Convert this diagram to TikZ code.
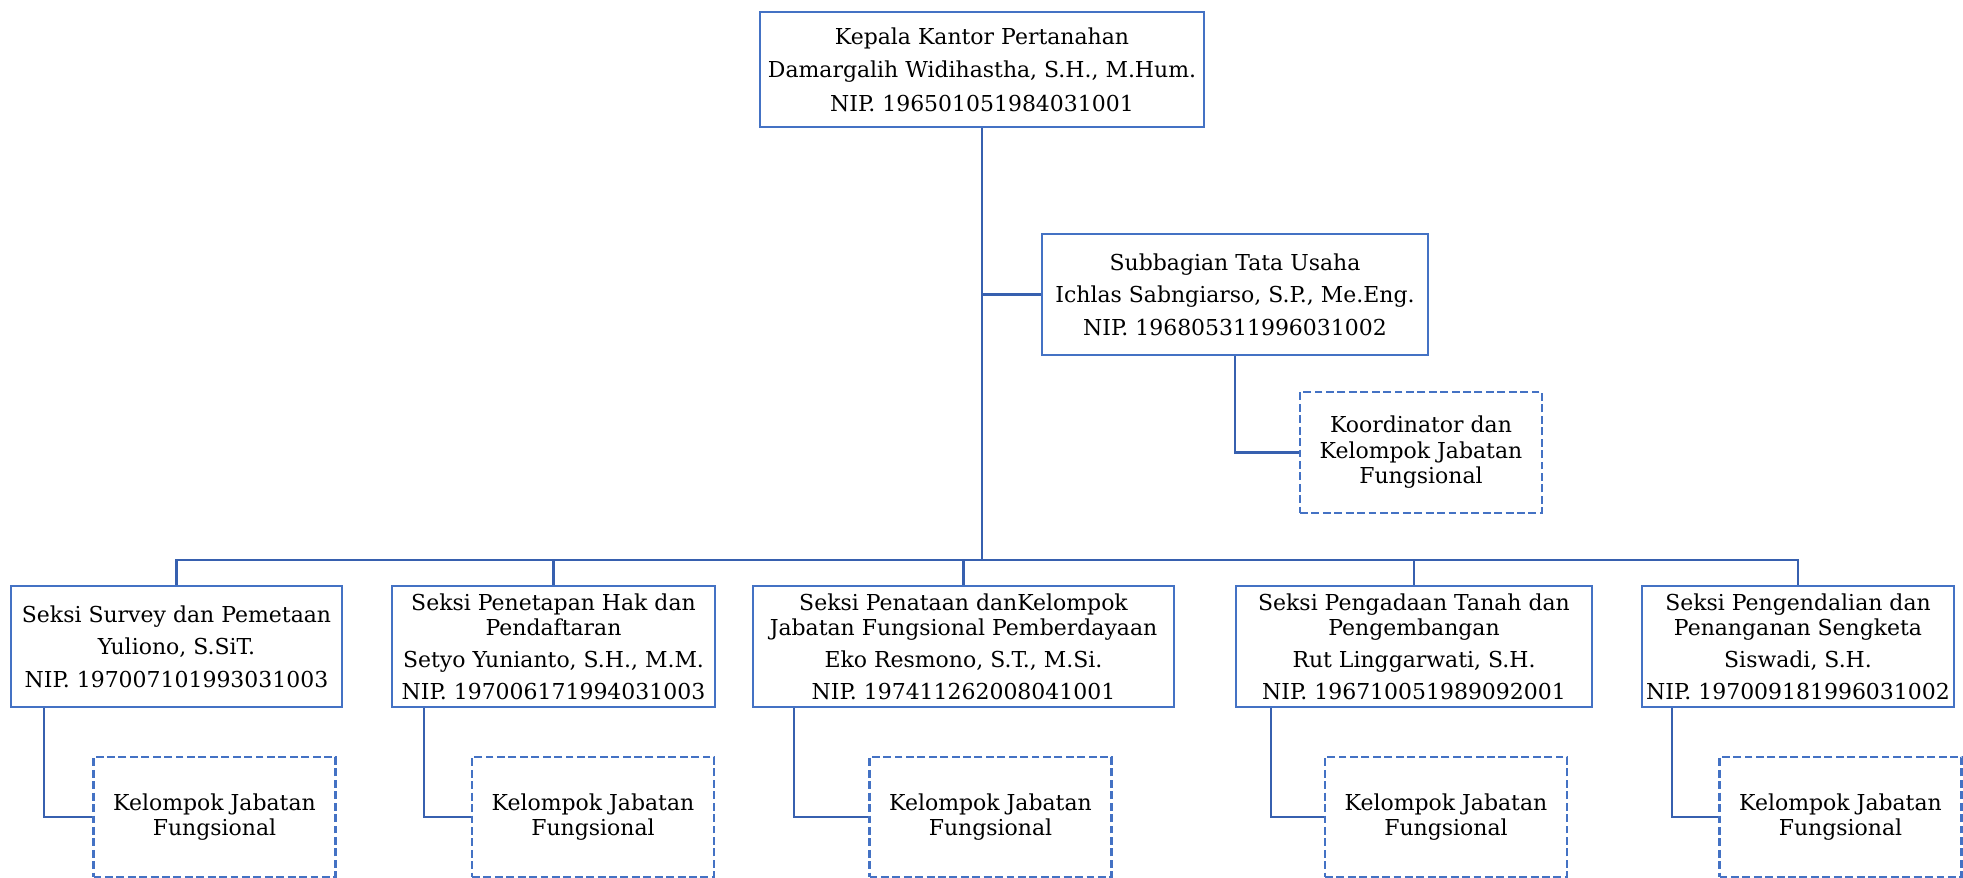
\documentclass[tikz,border=0pt]{standalone}
\usepackage{fontspec}
\setmainfont{DejaVu Serif}
\definecolor{orgblue}{RGB}{68,114,196}
\definecolor{lineblue}{RGB}{55,96,175}

\begin{document}
\begin{tikzpicture}[x=0.02cm,y=-0.02cm,
    unit/.style={draw=orgblue,line width=1.3pt,align=center,inner sep=1pt,
                 minimum height=2.42cm,font=\fontsize{12.5}{14.5}\selectfont},
    group/.style={unit,dash pattern=on 4.5pt off 2pt,minimum width=4.84cm,minimum height=2.4cm},
    link/.style={draw=lineblue,line width=1.5pt}]
    \useasboundingbox (0,0) rectangle (1963,878);

    \node[unit,minimum width=8.88cm,minimum height=2.3cm] (kepala) at (982,69.5)
        {Kepala Kantor Pertanahan\\[4.5pt]Damargalih Widihastha, S.H., M.Hum.\\[4.5pt]NIP. 196501051984031001};
    \node[unit,minimum width=7.72cm] (tu) at (1235,294.5)
        {Subbagian Tata Usaha\\[4pt]Ichlas Sabngiarso, S.P., Me.Eng.\\[4pt]NIP. 196805311996031002};
    \node[group,minimum height=2.42cm] (koord) at (1421,452.5)
        {Koordinator dan\\Kelompok Jabatan\\Fungsional};

    % seksi
    \node[unit,minimum width=6.62cm] (s1) at (176.5,646.5)
        {Seksi Survey dan Pemetaan\\[4pt]Yuliono, S.SiT.\\[4pt]NIP. 197007101993031003};
    \node[unit,minimum width=6.46cm] (s2) at (553.5,646.5)
        {Seksi Penetapan Hak dan\\Pendaftaran\\[3.5pt]Setyo Yunianto, S.H., M.M.\\[3.5pt]NIP. 197006171994031003};
    \node[unit,minimum width=8.42cm] (s3) at (963.5,646.5)
        {Seksi Penataan danKelompok\\Jabatan Fungsional Pemberdayaan\\[3.5pt]Eko Resmono, S.T., M.Si.\\[3.5pt]NIP. 197411262008041001};
    \node[unit,minimum width=7.12cm] (s4) at (1414,646.5)
        {Seksi Pengadaan Tanah dan\\Pengembangan\\[3.5pt]Rut Linggarwati, S.H.\\[3.5pt]NIP. 196710051989092001};
    \node[unit,minimum width=6.24cm] (s5) at (1798,646.5)
        {Seksi Pengendalian dan\\Penanganan Sengketa\\[3.5pt]Siswadi, S.H.\\[3.5pt]NIP. 197009181996031002};

    % kelompok jabatan fungsional
    \node[group] (k1) at (214.5,817)  {Kelompok Jabatan\\Fungsional};
    \node[group] (k2) at (593,817)    {Kelompok Jabatan\\Fungsional};
    \node[group] (k3) at (990.5,817)  {Kelompok Jabatan\\Fungsional};
    \node[group] (k4) at (1446,817)   {Kelompok Jabatan\\Fungsional};
    \node[group] (k5) at (1840.5,817) {Kelompok Jabatan\\Fungsional};

    \coordinate (bus) at (982,560);
    \draw[link] (kepala) -- (bus);
    \draw[link] (tu.west) -- (tu.west -| kepala.south);
    \draw[link] (tu) |- (koord.west);
    \foreach \s in {s1,s2,s3,s4,s5}
        \draw[link] (\s.north) |- (bus);
    \draw[link] (s1.south west) ++(34,0) |- (k1.west);
    \draw[link] (s2.south west) ++(33,0) |- (k2.west);
    \draw[link] (s3.south west) ++(42,0) |- (k3.west);
    \draw[link] (s4.south west) ++(36,0) |- (k4.west);
    \draw[link] (s5.south west) ++(31,0) |- (k5.west);
\end{tikzpicture}
\end{document}
